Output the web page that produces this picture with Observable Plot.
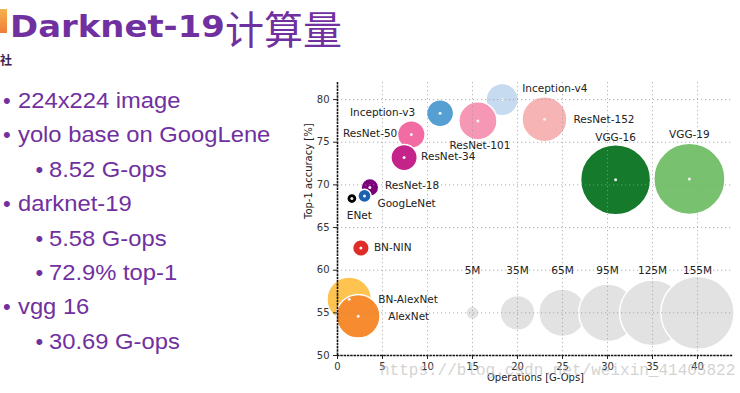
<!DOCTYPE html>
<html><head><meta charset="utf-8">
<script src="https://cdn.jsdelivr.net/npm/d3@7"></script>
<script src="https://cdn.jsdelivr.net/npm/@observablehq/plot@0.6"></script>
<style>
html,body{margin:0;padding:0;background:#fff;width:740px;height:393px;overflow:hidden;position:relative}
.t{position:absolute;white-space:nowrap;line-height:1}
#icon{position:absolute;left:0;top:9px;width:7px;height:24px;background:linear-gradient(#f6b24a,#f07e3a)}
#t1{left:10px;top:9px;font:bold 30px "DejaVu Sans";color:#7030a0;transform:scaleX(1.13);transform-origin:0 0}
#t2{left:225px;top:-1px;font:400 39px "Noto Sans CJK SC";color:#7030a0}
#she{left:0px;top:51px;font:bold 12px "Noto Sans CJK SC";color:#3a2050}
.b{font:22px "Liberation Sans";color:#7030a0}
.b span{display:inline-block;transform:scaleX(1.08);transform-origin:0 0}
#chart{position:absolute;left:290px;top:75px}
#wm{left:380px;top:362px;font:16px "Liberation Mono";color:#bdbdbd;opacity:0.65}
</style></head>
<body>
<div id="icon"></div>
<div class="t" id="t1">Darknet-19</div>
<div class="t" id="t2">计算量</div>
<div class="t" id="she">社</div>
<div id="bullets"></div>
<div id="chart"></div>
<div class="t" id="wm">https://blog.csdn.net/weixin_41405822</div>
<script>
// ---- slide text ----
const bulletTexts = ["224x224 image","yolo base on GoogLene","8.52 G-ops","darknet-19","5.58 G-ops","72.9% top-1","vgg 16","30.69 G-ops"];
const bulletLevels = [0,0,1,0,1,1,0,1];

// ---- chart data ----
const names  = ["BN-AlexNet","AlexNet","BN-NIN","ResNet-18","GoogLeNet","ENet","ResNet-50","ResNet-34","Inception-v3","Inception-v4","ResNet-101","ResNet-152","VGG-16","VGG-19"];
const ops    = [1.3, 2.3, 2.6, 3.6, 3.0, 1.6, 8.2, 7.4, 11.4, 18.3, 15.6, 23.0, 30.9, 39.1];
const acc    = [56.6, 54.6, 62.6, 69.7, 68.7, 68.4, 75.9, 73.2, 78.4, 80.0, 77.5, 77.7, 70.6, 70.7];
const params = [57, 55, 8, 9, 5, 3, 22, 20, 21, 30, 42, 58, 141, 146];
const colors = ["#fec44f","#f68b2f","#de2d26","#7a0177","#1d5fb0","#000000","#f26ca3","#c4238a","#569fd3","#c6dbef","#f597b5","#f7b4b4","#157a2c","#78c26f"];

const legendOps    = [15, 20, 25, 30, 35, 40];
const legendParams = [5, 35, 65, 95, 125, 155];
const legendLabels = ["5M","35M","65M","95M","125M","155M"];
const legendAcc = 55, legendLabelAcc = 60;

const xTicks = [0,5,10,15,20,25,30,35,40];
const yTicks = [50,55,60,65,70,75,80];

// label placement (pixel offsets, style only)
const place = {
  "BN-AlexNet":[29,0,"start"], "AlexNet":[30,0,"start"], "BN-NIN":[13,0,"start"],
  "ResNet-18":[15,-2,"start"], "GoogLeNet":[13,8,"start"], "ENet":[7.5,17,"middle"],
  "ResNet-50":[-14,-1,"end"], "ResNet-34":[17,-1,"start"], "Inception-v3":[-25,-1,"end"],
  "Inception-v4":[20,-11,"start"], "ResNet-101":[2,25,"middle"], "ResNet-152":[29,0,"start"],
  "VGG-16":[0,-42,"middle"], "VGG-19":[0,-44,"middle"]
};

// bullets
const bdiv = document.getElementById("bullets");
bulletTexts.forEach((txt, i) => {
  const lv = bulletLevels[i];
  const top = 88 + i * 34.4;
  const dot = document.createElement("div");
  dot.className = "t b"; dot.style.left = (lv ? 35.5 : 3) + "px"; dot.style.top = top + "px";
  dot.textContent = "•"; bdiv.appendChild(dot);
  const d = document.createElement("div");
  d.className = "t b"; d.style.left = (lv ? 48.5 : 17.5) + "px"; d.style.top = top + "px";
  const s = document.createElement("span"); s.textContent = txt; d.appendChild(s);
  bdiv.appendChild(d);
});

const idx = d3.range(names.length);
const lidx = d3.range(legendOps.length);
const grid = {stroke: "#9a9a9a", strokeOpacity: 0.75, strokeDasharray: "1.2,2.8", strokeWidth: 1};

const labelMarks = idx.map(i => {
  const [dx, dy, anchor] = place[names[i]];
  return Plot.text([i], {x: j => ops[j], y: j => acc[j], text: j => names[j], dx, dy, textAnchor: anchor,
    fill: "#222", fontSize: 10.5});
});

const chart = Plot.plot({
  width: 450, height: 318,
  marginLeft: 47, marginRight: 7, marginTop: 7, marginBottom: 38,
  style: {fontFamily: "DejaVu Sans", fontSize: "10px", color: "#333", background: "transparent", overflow: "visible"},
  x: {domain: [0, 44]},
  y: {domain: [50, 82]},
  r: {type: "sqrt", domain: [0, 155], range: [0, 36.7]},
  marks: [
    Plot.dot(lidx, {x: i => legendOps[i], y: () => legendAcc, r: i => legendParams[i], fill: "#e2e2e2", stroke: "white", strokeWidth: 1.5, sort: null}),
    Plot.dot(idx, {x: i => ops[i], y: i => acc[i], r: i => params[i], fill: i => colors[i], stroke: "white", strokeWidth: 1.5, sort: null}),
    Plot.dot(idx, {x: i => ops[i], y: i => acc[i], r: 1.5, fill: "#f2f2f2", stroke: null}),
    Plot.ruleX(xTicks.slice(1), grid),
    Plot.ruleY(yTicks.slice(1), grid),
    Plot.ruleX([0], {stroke: "#111", strokeWidth: 1.6, strokeDasharray: "2.5,0.8"}),
    Plot.ruleY([50], {stroke: "#111", strokeWidth: 1.6, strokeDasharray: "2.5,0.8"}),
    Plot.axisX(xTicks, {tickSize: 4, tickPadding: 3, label: null, fontSize: 10, fill: "#333", stroke: "#222"}),
    Plot.axisY(yTicks, {tickSize: 4, tickPadding: 4, label: null, fontSize: 10, fill: "#333", stroke: "#222"}),
    Plot.text(lidx, {x: i => legendOps[i], y: () => legendLabelAcc, text: i => legendLabels[i], fill: "#222", fontSize: 10.5}),
    ...labelMarks,
    Plot.text(["Operations [G-Ops]"], {frameAnchor: "bottom", dy: 25, text: d => d, fill: "#222", fontSize: 10}),
    Plot.text(["Top-1 accuracy [%]"], {frameAnchor: "left", dx: -29, rotate: -90, text: d => d, fill: "#222", fontSize: 10})
  ]
});
document.getElementById("chart").appendChild(chart);
</script>
</body></html>
